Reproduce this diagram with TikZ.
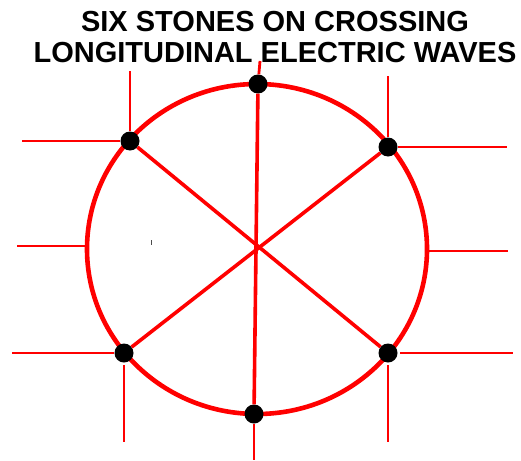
\documentclass[tikz,border=0pt]{standalone}
\usepackage{fontspec}
\setmainfont{Liberation Sans}
\usepackage{tikz}
\usetikzlibrary{positioning,calc}
\usepackage{xcolor}
\definecolor{cWave}{RGB}{255,0,0}
\definecolor{cStone}{RGB}{0,0,0}
\tikzset{
	stone/.style={circle, fill=cStone, draw=none, inner sep=0pt,
		minimum size=19pt},
	ring/.style={draw=cWave, line width=4.6pt},
	spoke/.style={draw=cWave, line width=3.6pt},
	wave/.style={draw=cWave, line width=2.8pt},
	ttl/.style={anchor=base, font=\bfseries\fontsize{29}{32}\selectfont},
}

\begin{document}
\begin{tikzpicture}[x=1pt, y=-1pt]
			\useasboundingbox (0,0) rectangle (521,460);
			\node[ttl] (title1) at (275,31) {SIX STONES ON CROSSING};
			\node[ttl] (title2) at (275,63) {LONGITUDINAL ELECTRIC WAVES};
			\draw[ring] (257,249) ellipse [x radius=170, y radius=165];
			% stones on the ring
			\node[stone] (T) at (258,84) {};
			\node[stone] (TL) at (130,141) {};
			\node[stone] (TR) at (388,147) {};
			\node[stone] (BL) at (124,353) {};
			\node[stone] (BR) at (388,353) {};
			\node[stone] (B) at (254,414) {};
			\draw[spoke] (T) -- (B);
			\draw[spoke] (TL) -- (BR);
			\draw[spoke] (TR) -- (BL);
			% free ends of the waves
			\coordinate (Tup) at (260,61);
			\coordinate (TLup) at (130,71);
			\coordinate (TLleft) at (22,141);
			\coordinate (TRup) at (388,76);
			\coordinate (TRright) at (507,147);
			\coordinate (Lin) at (87,246);
			\coordinate (Lout) at (17,246);
			\coordinate (Rin) at (427,251);
			\coordinate (Rout) at (508,251);
			\coordinate (BLleft) at (12,353);
			\coordinate (BLdown) at (124,442);
			\coordinate (BRright) at (513,353);
			\coordinate (BRdown) at (388,442);
			\coordinate (Bdown) at (254,460);
			\draw[wave] (T) -- (Tup);
			\draw[wave] (TL) -- (TLup);
			\draw[wave] (TL) -- (TLleft);
			\draw[wave] (TR) -- (TRup);
			\draw[wave] (TR) -- (TRright);
			\draw[wave] (Lin) -- (Lout);
			\draw[wave] (Rin) -- (Rout);
			\draw[wave] (BL) -- (BLleft);
			\draw[wave, shorten <=2.5pt] (BL) -- (BLdown);
			\draw[wave, shorten <=2.5pt] (BR) -- (BRright);
			\draw[wave, shorten <=2.5pt] (BR) -- (BRdown);
			\draw[wave] (B) -- (Bdown);
			\draw[black!70, line width=1pt] (151,240) -- (151,245);
		\end{tikzpicture}
\end{document}
